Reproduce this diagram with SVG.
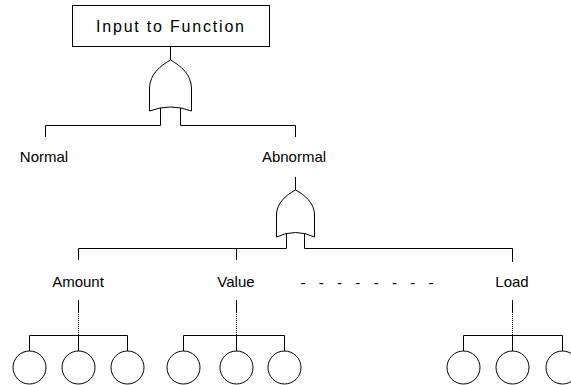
<svg xmlns="http://www.w3.org/2000/svg" width="571" height="385" viewBox="0 0 571 385">
<style>
.ln{fill:none;stroke:#000;stroke-width:1}
.dot{fill:none;stroke:#000;stroke-width:1;stroke-dasharray:1 1}
.gate{fill:#fff;stroke:#000;stroke-width:1}
.ev{fill:#fff;stroke:#000;stroke-width:1}
text{font-family:"Liberation Sans",Arial,sans-serif;font-size:15px;fill:#000;text-anchor:middle}
</style>
<rect width="571" height="385" fill="#fff"/>
<g id="connectors">
<path class="ln" d="M170.5,46 V60"/>
<path class="ln" d="M45.5,137 V125.5 H160.5 V106"/>
<path class="ln" d="M295.5,137 V125.5 H180.5 V106"/>
<path class="ln" d="M295.5,177 V190"/>
<path class="ln" d="M78.5,260 V248.5 H286.5 V233"/>
<path class="ln" d="M236.5,248.5 V260"/>
<path class="ln" d="M512.5,262 V248.5 H304.5 V233"/>
<path class="ln" d="M78.5,300 V312"/><path class="dot" d="M78.5,312 V335"/>
<path class="ln" d="M29.5,351 V335.5 H127.5 V351 M78.5,335 V351"/>
<path class="ln" d="M236.5,300 V312"/><path class="dot" d="M236.5,312 V335"/>
<path class="ln" d="M183.5,351 V335.5 H284.5 V351 M236.5,335 V351"/>
<path class="ln" d="M512.5,300 V312"/><path class="dot" d="M512.5,312 V335"/>
<path class="ln" d="M463.5,351 V335.5 H562.5 V351 M512.5,335 V351"/>
</g>
<g id="top">
<rect class="ln" x="72.5" y="5.5" width="197" height="41"/>
<text x="170" y="32" style="font-size:16px" textLength="148" lengthAdjust="spacing">Input to Function</text>
</g>
<g id="gate1">
<path class="gate" d="M170.5,60 C160,66 150,74 149.5,88 L149.5,111 Q170.5,103 191.5,111 L191.5,88 C191,74 181,66 170.5,60 Z"/>
</g>
<g id="normal"><text x="44" y="162">Normal</text></g>
<g id="abnormal"><text x="294" y="162">Abnormal</text></g>
<g id="gate2">
<path class="gate" d="M295.5,190 C286,195 277,203 276.5,214 L276.5,237 Q295.5,228 314.5,237 L314.5,214 C314,203 305,195 295.5,190 Z"/>
</g>
<g id="amount"><text x="78" y="287">Amount</text></g>
<g id="value"><text x="236" y="287">Value</text></g>
<g id="dots"><text x="367" y="288" textLength="133" lengthAdjust="spacing">- - - - - - - -</text></g>
<g id="load"><text x="512" y="287">Load</text></g>
<g id="a1"><circle class="ev" cx="29.5" cy="367.5" r="16.5"/></g>
<g id="a2"><circle class="ev" cx="78.5" cy="367.5" r="16.5"/></g>
<g id="a3"><circle class="ev" cx="127.5" cy="367.5" r="16.5"/></g>
<g id="v1"><circle class="ev" cx="183.5" cy="367.5" r="16.5"/></g>
<g id="v2"><circle class="ev" cx="236.5" cy="367.5" r="16.5"/></g>
<g id="v3"><circle class="ev" cx="284.5" cy="367.5" r="16.5"/></g>
<g id="l1"><circle class="ev" cx="463.5" cy="367.5" r="16.5"/></g>
<g id="l2"><circle class="ev" cx="512.5" cy="367.5" r="16.5"/></g>
<g id="l3"><circle class="ev" cx="562.5" cy="367.5" r="16.5"/></g>
</svg>
